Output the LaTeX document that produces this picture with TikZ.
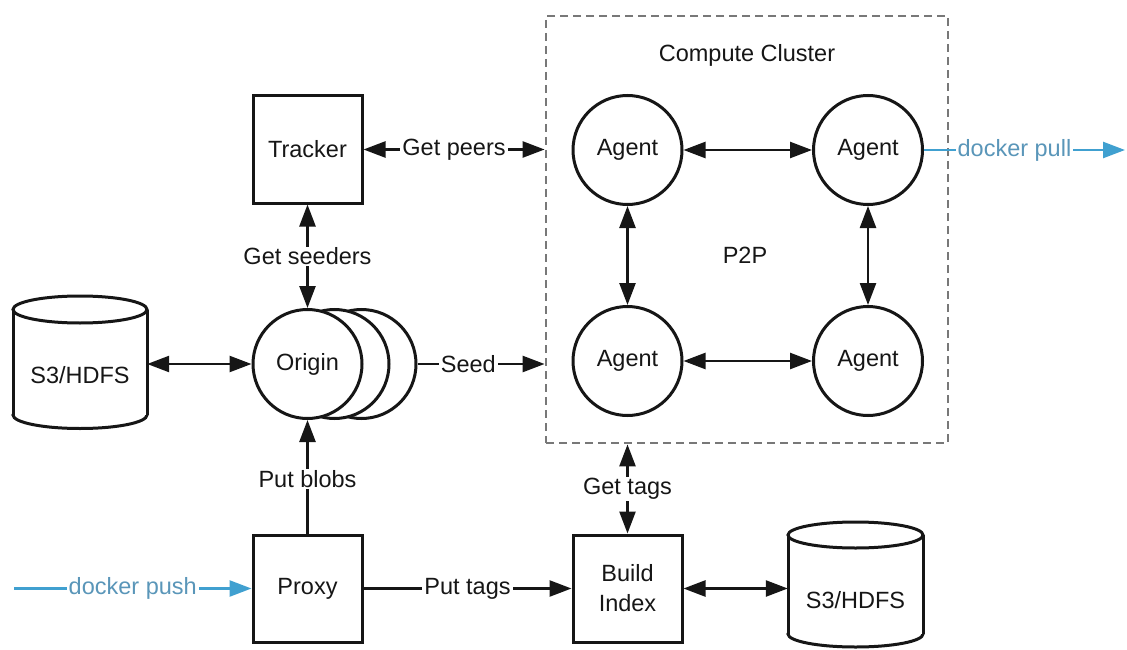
\documentclass[tikz,border=0pt]{standalone}
\usepackage{fontspec}
\setmainfont{Liberation Sans}
\usetikzlibrary{arrows.meta}
\definecolor{ink}{RGB}{22,22,22}
\definecolor{dashgray}{RGB}{120,120,120}
\definecolor{dline}{RGB}{64,160,208}
\definecolor{dtext}{RGB}{90,150,185}
\begin{document}
\begin{tikzpicture}[x=1pt,y=-1pt,
  every node/.style={font=\fontsize{23.5}{30}\selectfont, text=ink},
  box/.style={draw=ink, line width=3pt, fill=white, minimum width=109pt, minimum height=107pt, inner sep=0pt},
  agentc/.style={draw=ink, circle, line width=3pt, fill=white, minimum size=109pt, inner sep=0pt},
  conn/.style={draw=ink, line width=2.5pt},
  arrowend/.style={-{Triangle[length=22pt,width=16pt]}},
  arrowboth/.style={{Triangle[length=22pt,width=16pt]}-{Triangle[length=22pt,width=16pt]}},
  lbl/.style={fill=white, inner xsep=2pt, inner ysep=1pt},
  cyl/.style={line width=3pt, draw=ink},
]
\useasboundingbox (0,0) rectangle (1127,650);

% compute cluster
\node[draw=dashgray, line width=2.8pt, dash pattern=on 8pt off 5pt, minimum width=402pt, minimum height=427pt, inner sep=0pt] (cluster) at (747,229.5) {};
\node (cctitle) at (747,55) {Compute Cluster};
\node[agentc] (a1) at (627.5,150) {Agent};
\node[agentc] (a2) at (868,150) {Agent};
\node[agentc] (a3) at (627.5,361) {Agent};
\node[agentc] (a4) at (868,361) {Agent};
\node (p2p) at (745,255) {P2P};
\draw[conn, arrowboth] (a1) -- (a2);
\draw[conn, arrowboth] (a3) -- (a4);
\draw[conn, arrowboth] (a1) -- (a3);
\draw[conn, arrowboth] (a2) -- (a4);

% tracker and origin
\node[box] (tracker) at (307.5,149.5) {Tracker};
\node[agentc] (o3) at (361.5,364) {};
\node[agentc] (o2) at (334.5,364) {};
\node[agentc] (origin) at (307.5,364) {Origin};
\draw[conn, arrowboth] (origin) -- node[lbl]{Get seeders} (tracker);
\draw[conn, arrowboth] (tracker.east) -- node[lbl]{Get peers} (cluster.west |- tracker.east);
\draw[conn, arrowend] (o3.east) -- node[lbl, pos=0.4]{Seed} (cluster.west |- o3.east);

% left storage
\draw[cyl, fill=white] (80,415) ellipse [x radius=67pt, y radius=13.5pt];
\fill[white] (13,309.5) rectangle (147,415);
\draw[cyl] (13,309.5) -- (13,415) (147,309.5) -- (147,415);
\draw[cyl, fill=white] (80,309.5) ellipse [x radius=67pt, y radius=13.5pt];
\node[minimum width=134pt, minimum height=132pt, inner sep=0pt] (s3a) at (80,362) {};
\node (s3atext) at (80,375) {S3/HDFS};
\draw[conn, arrowboth] (s3a.east |- origin.west) -- (origin.west);

% proxy and build index
\node[box] (proxy) at (307.5,588.5) {Proxy};
\node[box, align=center] (build) at (627.5,588.5) {Build\\Index};
\draw[conn, arrowend] (proxy.north) -- node[lbl, pos=0.48]{Put blobs} (origin.south);
\draw[conn, arrowend] (proxy) -- node[lbl]{Put tags} (build);
\draw[conn, arrowboth] (build.north) -- node[lbl]{Get tags} (build.north |- cluster.south);

% right storage
\draw[cyl, fill=white] (855.5,634) ellipse [x radius=67.5pt, y radius=13pt];
\fill[white] (788,535) rectangle (923,634);
\draw[cyl] (788,535) -- (788,634) (923,535) -- (923,634);
\draw[cyl, fill=white] (855.5,535) ellipse [x radius=67.5pt, y radius=13pt];
\node[minimum width=135pt, minimum height=125pt, inner sep=0pt] (s3b) at (855.5,584.5) {};
\node (s3btext) at (855.5,600) {S3/HDFS};
\draw[conn, arrowboth] (build.east) -- (s3b.west |- build.east);

% docker
\coordinate (pushstart) at (14,588.5);
\coordinate (pullend) at (1125,150);
\draw[line width=2.5pt, draw=dline, -{Triangle[length=22pt,width=16pt]}] (pushstart) -- node[lbl, text=dtext]{docker push} (proxy.west);
\draw[line width=2.5pt, draw=dline, -{Triangle[length=22pt,width=16pt]}] (a2.east) -- node[lbl, text=dtext, pos=0.45]{docker pull} (pullend);
\end{tikzpicture}
\end{document}
